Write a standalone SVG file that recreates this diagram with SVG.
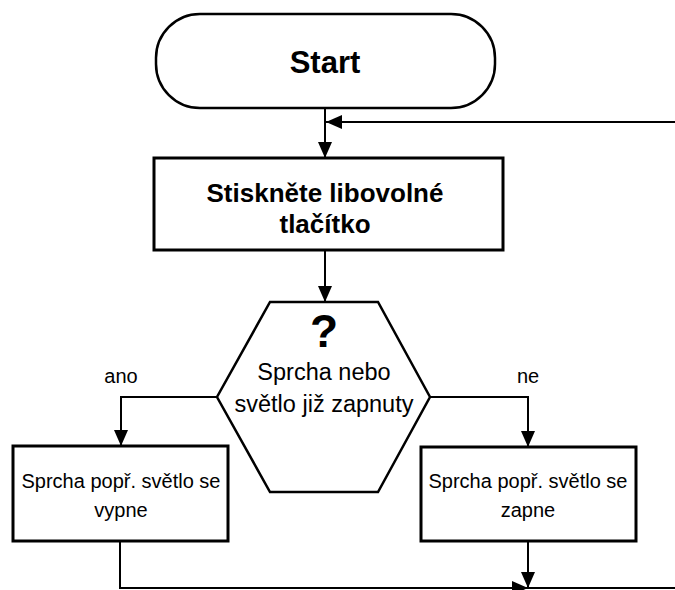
<svg xmlns="http://www.w3.org/2000/svg" width="675" height="590" viewBox="0 0 675 590">
<style>
.shape{fill:#fff;stroke:#000;stroke-width:2.5}
.box{fill:#fff;stroke:#000;stroke-width:3}
.conn{fill:none;stroke:#000;stroke-width:2}
text{font-family:"Liberation Sans",Arial,sans-serif;fill:#000;text-anchor:middle}
.b{font-weight:bold}
.r{font-size:20px}
</style>
<defs>
<marker id="ah" markerUnits="userSpaceOnUse" markerWidth="16" markerHeight="14" refX="16" refY="7" orient="auto">
<path d="M0,0 L16,7 L0,14 z" fill="#000"/>
</marker>
</defs>
<g id="connectors">
<line class="conn" x1="325" y1="108" x2="325" y2="158" marker-end="url(#ah)"/>
<line class="conn" x1="675" y1="122" x2="326" y2="122" marker-end="url(#ah)"/>
<line class="conn" x1="325" y1="250" x2="325" y2="302" marker-end="url(#ah)"/>
<polyline class="conn" points="217,397 121,397 121,446" marker-end="url(#ah)"/>
<polyline class="conn" points="430,397 528,397 528,447" marker-end="url(#ah)"/>
<line class="conn" x1="528" y1="541" x2="528" y2="588" marker-end="url(#ah)"/>
<polyline class="conn" points="120,541 120,588 528,588" marker-end="url(#ah)"/>
<line class="conn" x1="528" y1="588" x2="675" y2="588"/>
<text class="r" x="121" y="383">ano</text>
<text class="r" x="528" y="383">ne</text>
</g>
<g id="start">
<rect class="shape" x="156" y="14" width="339" height="94" rx="44" ry="44"/>
<text class="b" x="325" y="73" font-size="31">Start</text>
</g>
<g id="press">
<rect class="box" x="154" y="158" width="349" height="92"/>
<text class="b" x="325" y="202" font-size="26">Stiskněte libovolné</text>
<text class="b" x="325" y="233" font-size="26">tlačítko</text>
</g>
<g id="decision">
<polygon class="shape" points="270,302 378,302 430,397 378,492 270,492 217,397"/>
<text class="b" x="324" y="347" font-size="46">?</text>
<text x="324" y="380" font-size="23.5">Sprcha nebo</text>
<text x="324" y="412" font-size="23.5">světlo již zapnuty</text>
</g>
<g id="off">
<rect class="box" x="13" y="446" width="215" height="95"/>
<text class="r" x="121" y="488">Sprcha popř. světlo se</text>
<text class="r" x="121" y="517">vypne</text>
</g>
<g id="on">
<rect class="box" x="421" y="447" width="215" height="94"/>
<text class="r" x="528" y="488">Sprcha popř. světlo se</text>
<text class="r" x="528" y="517">zapne</text>
</g>
</svg>
